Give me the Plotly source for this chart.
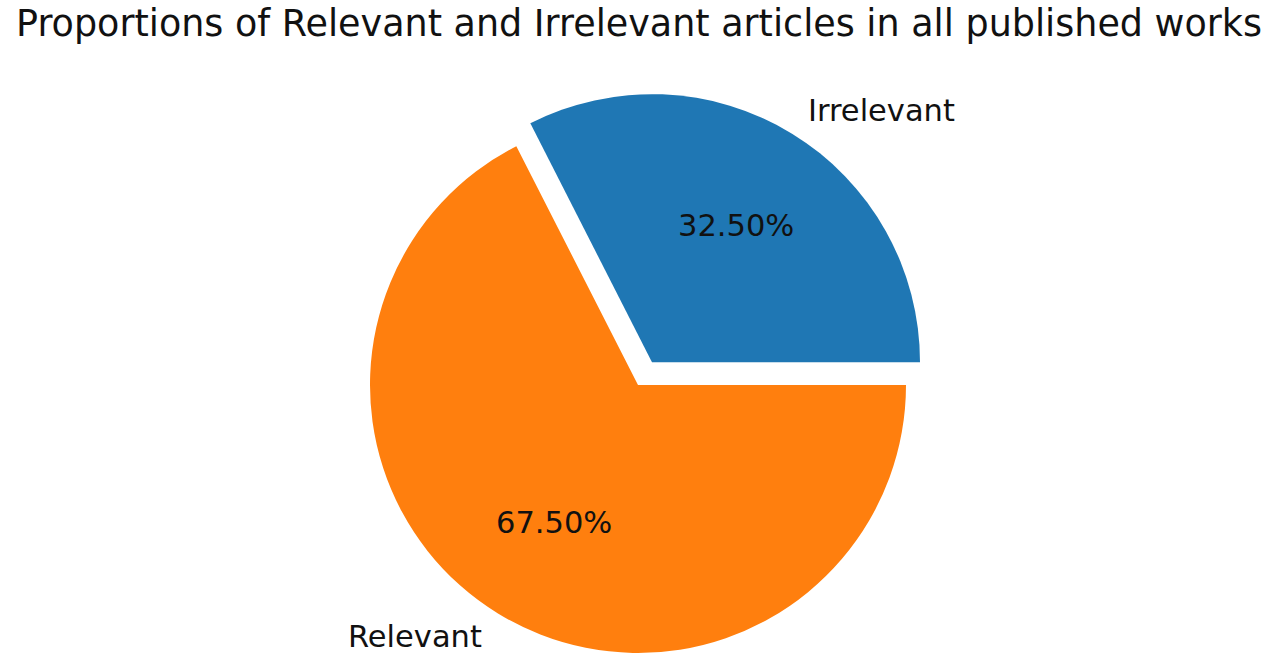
import math

import plotly.graph_objects as go

labels = ["Irrelevant", "Relevant"]
values = [32.5, 67.5]
colors = ["#1f77b4", "#ff7f0e"]
explode = [0.1, 0.0]

W, H = 1280, 667
# pie centre and radius in pixels (matplotlib-like layout)
CX, CY, R = 638, 385, 268
FONT = "DejaVu Sans"

total = sum(values)
# plotly: counterclockwise pies put the first slice clockwise of `rotation`,
# so rotate back by the first wedge to start it at 3 o'clock like matplotlib
rot = 90 - 360 * values[0] / total

fig = go.Figure()
annotations = []

start = 0.0
for i, (lab, val) in enumerate(zip(labels, values)):
    frac = val / total
    mid = math.radians((start + frac / 2) * 360)
    # exploded centre of this wedge
    cx = CX + explode[i] * R * math.cos(mid)
    cy = CY - explode[i] * R * math.sin(mid)

    # one pie per wedge so each can be shifted; other wedges are transparent
    wedge_colors = [c if j == i else "rgba(0,0,0,0)" for j, c in enumerate(colors)]
    fig.add_trace(go.Pie(
        labels=labels,
        values=values,
        sort=False,
        direction="counterclockwise",
        rotation=rot,
        marker=dict(colors=wedge_colors, line=dict(width=0)),
        textinfo="none",
        hoverinfo="skip",
        showlegend=False,
        domain=dict(
            x=[(cx - R) / W, (cx + R) / W],
            y=[(H - cy - R) / H, (H - cy + R) / H],
        ),
    ))

    # percentage at 0.6 r, label at 1.1 r
    px = cx + 0.6 * R * math.cos(mid)
    py = cy - 0.6 * R * math.sin(mid)
    annotations.append(dict(
        x=px / W, y=1 - py / H, xref="paper", yref="paper",
        text=f"{val / total * 100:.2f}%", showarrow=False,
        xanchor="center", yanchor="middle",
        font=dict(family=FONT, size=30.5, color="#111111"),
    ))
    lx = cx + 1.1 * R * math.cos(mid)
    ly = cy - 1.1 * R * math.sin(mid)
    annotations.append(dict(
        x=lx / W, y=1 - ly / H, xref="paper", yref="paper",
        text=lab, showarrow=False,
        xanchor="left" if math.cos(mid) > 0 else "right", yanchor="middle",
        font=dict(family=FONT, size=30.5, color="#111111"),
    ))
    start += frac

fig.update_layout(
    width=W,
    height=H,
    margin=dict(l=0, r=0, t=0, b=0),
    paper_bgcolor="white",
    title=dict(
        text="Proportions of Relevant and Irrelevant articles in all published works",
        x=639 / W, xanchor="center", y=1 - 23 / H, yanchor="middle",
        font=dict(family=FONT, size=36.5, color="#111111"),
    ),
    annotations=annotations,
)

# drop the default page margin so the figure fills the window exactly
fig.write_html(
    "out.html",
    config={"displayModeBar": False},
    post_script="document.body.style.margin='0';",
)
